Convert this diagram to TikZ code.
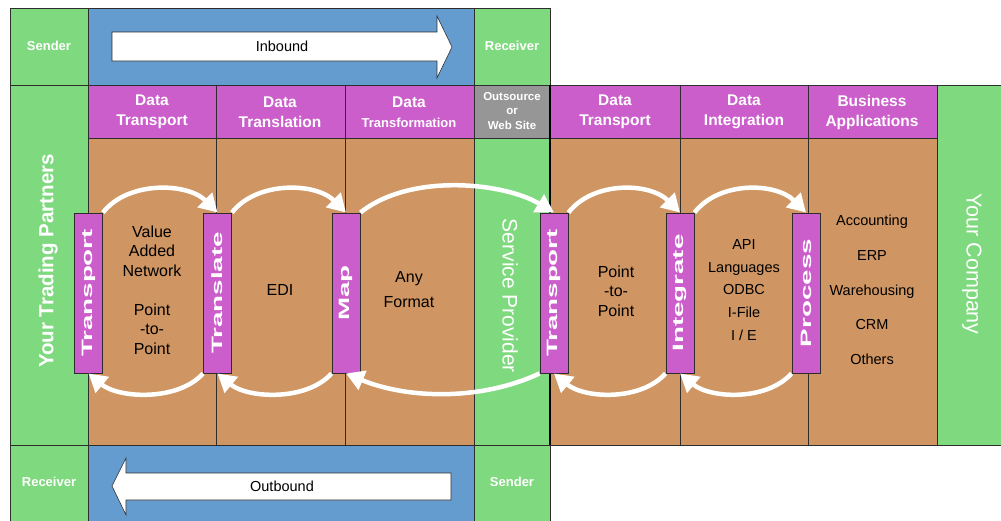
\documentclass[tikz,border=0pt]{standalone}
\usepackage{fontspec}
\setmainfont{Liberation Sans}
\usepackage{graphicx}
\usetikzlibrary{arrows.meta}
\definecolor{grn}{RGB}{127,217,127}
\definecolor{blu}{RGB}{100,156,208}
\definecolor{pur}{RGB}{204,94,204}
\definecolor{brn}{RGB}{207,149,98}
\definecolor{gry}{RGB}{150,150,150}
\definecolor{edge}{RGB}{45,45,45}

\begin{document}
\begin{tikzpicture}[x=1pt,y=-1pt]
\tikzstyle{cell}=[draw=edge,line width=0.9pt]
\tikzstyle{bar}=[draw=edge,fill=pur,line width=0.9pt,minimum width=28pt,minimum height=160pt,inner sep=0pt,text=white,font=\bfseries\fontsize{15}{17}\selectfont]
\tikzstyle{head}=[text=white,align=center,font=\bfseries\fontsize{15.5}{20}\selectfont]
\tikzstyle{side}=[text=white,font=\bfseries\fontsize{13}{15}\selectfont]
\tikzstyle{big}=[text=white,font=\fontsize{21.5}{24}\selectfont]
\tikzstyle{body}=[align=center,font=\fontsize{16}{19.5}\selectfont]
\tikzstyle{list}=[align=center,font=\fontsize{14.5}{22.8}\selectfont]
\tikzstyle{flow}=[white,line width=4.5pt,-{Triangle[length=18pt,width=20pt]}]
\tikzstyle{block}=[fill=white,draw=edge,line width=0.6pt]
\useasboundingbox (0,0) rectangle (1001,520);
\fill[white] (0,0) rectangle (1001,520);
\filldraw[cell,fill=grn] (10,8) rectangle (88,85);
\filldraw[cell,fill=blu] (88,8) rectangle (474,85);
\filldraw[cell,fill=grn] (474,8) rectangle (550,85);
\filldraw[cell,fill=grn] (10,85) rectangle (88,445);
\filldraw[cell,fill=pur] (88,85) rectangle (216,138);
\filldraw[cell,fill=pur] (216,85) rectangle (345,138);
\filldraw[cell,fill=pur] (345,85) rectangle (474,138);
\filldraw[cell,fill=gry] (474,85) rectangle (550,138);
\filldraw[cell,fill=pur] (550,85) rectangle (680,138);
\filldraw[cell,fill=pur] (680,85) rectangle (808,138);
\filldraw[cell,fill=pur] (808,85) rectangle (937,138);
\filldraw[cell,fill=brn] (88,138) rectangle (216,445);
\filldraw[cell,fill=brn] (216,138) rectangle (345,445);
\filldraw[cell,fill=brn] (345,138) rectangle (474,445);
\filldraw[cell,fill=grn] (474,138) rectangle (550,445);
\filldraw[cell,fill=brn] (550,138) rectangle (680,445);
\filldraw[cell,fill=brn] (680,138) rectangle (808,445);
\filldraw[cell,fill=brn] (808,138) rectangle (937,445);
\filldraw[cell,fill=grn] (937,85) rectangle (1004,445);
\filldraw[cell,fill=grn] (10,445) rectangle (88,524);
\filldraw[cell,fill=blu] (88,445) rectangle (474,524);
\filldraw[cell,fill=grn] (474,445) rectangle (550,524);
\draw[line width=1.4pt] (550,85) -- (550,445);
\filldraw[block] (112,32) -- (437,32) -- (437,16) -- (452,47) -- (437,78) -- (437,61) -- (112,61) -- cycle;
\filldraw[block] (451,473) -- (126,473) -- (126,458) -- (112,486) -- (126,515) -- (126,500) -- (451,500) -- cycle;
\node[side] (snd) at (49,46) {Sender};
\node[side] (rcv) at (512,46) {Receiver};
\node[font=\fontsize{14.5}{16}\selectfont] (inb) at (282,46) {Inbound};
\node[side] (rcv2) at (49,482) {Receiver};
\node[side] (snd2) at (512,482) {Sender};
\node[font=\fontsize{14.5}{16}\selectfont] (outb) at (282,486) {Outbound};
\node[head] (h1) at (152,112) {Data\\Transport};
\node[head] (h2) at (280,112) {Data\\Translation};
\node[head] (h3) at (409,112) {Data\\\fontsize{13}{20}\selectfont Transformation};
\node[text=white,align=center,font=\bfseries\fontsize{11.5}{14.5}\selectfont] (h4) at (512,111) {Outsource\\or\\Web Site};
\node[head] (h5) at (615,112) {Data\\Transport};
\node[head] (h6) at (744,112) {Data\\Integration};
\node[head] (h7) at (872,112) {Business\\Applications};
\node[big,font=\bfseries\fontsize{20.5}{24}\selectfont] (ytp) at (48,261) {\rotatebox{90}{Your Trading Partners}};
\node[big,font=\fontsize{21}{24}\selectfont] (sp) at (510,296) {\rotatebox{-90}{Service Provider}};
\node[big] (yc) at (972,264) {\rotatebox{-90}{Your Company}};
\node[bar] (tp1) at (88.5,293) {\rotatebox{90}{\scalebox{1.85}[1]{Transport}}};
\node[bar] (tl) at (217.5,293) {\rotatebox{90}{\scalebox{1.85}[1]{Translate}}};
\node[bar] (mp) at (346,293) {\rotatebox{90}{\scalebox{1.85}[1]{Map}}};
\node[bar] (tp2) at (554,293) {\rotatebox{90}{\scalebox{1.85}[1]{Transport}}};
\node[bar] (ig) at (680,293) {\rotatebox{90}{\scalebox{1.85}[1]{Integrate}}};
\node[bar] (pr) at (806,293) {\rotatebox{90}{\scalebox{1.85}[1]{Process}}};
\node[body] (van) at (152,290) {Value\\Added\\Network\\[19.5pt]Point\\-to-\\Point};
\node[body] (edi) at (280,290) {EDI};
\node[body,font=\fontsize{16}{25}\selectfont] (fmt) at (409,290) {Any\\Format};
\node[body] (p2p) at (616,291) {Point\\-to-\\Point};
\node[list] (api) at (744,290) {API\\Languages\\ODBC\\I-File\\I / E};
\node[list,font=\fontsize{14.5}{34.75}\selectfont] (apps) at (872,290) {Accounting\\ERP\\Warehousing\\CRM\\Others};
\draw[flow] (tp1.north east) .. controls +(25,-32) and +(-30,-30) .. (tl.north);
\draw[flow] (tl.north east) .. controls +(25,-32) and +(-30,-30) .. (mp.north);
\draw[flow] (mp.north east) .. controls +(50,-40) and +(-50,-30) .. (tp2.north);
\draw[flow] (tp2.north east) .. controls +(25,-32) and +(-30,-30) .. (ig.north);
\draw[flow] (ig.north east) .. controls +(25,-32) and +(-30,-30) .. (pr.north);
\draw[flow] (tl.south west) .. controls +(-25,28) and +(30,25) .. (tp1.south);
\draw[flow] (mp.south west) .. controls +(-25,28) and +(30,25) .. (tl.south);
\draw[flow] (tp2.south west) .. controls +(-60,28) and +(60,25) .. (mp.south);
\draw[flow] (ig.south west) .. controls +(-25,28) and +(30,25) .. (tp2.south);
\draw[flow] (pr.south west) .. controls +(-25,28) and +(30,25) .. (ig.south);
\end{tikzpicture}
\end{document}
